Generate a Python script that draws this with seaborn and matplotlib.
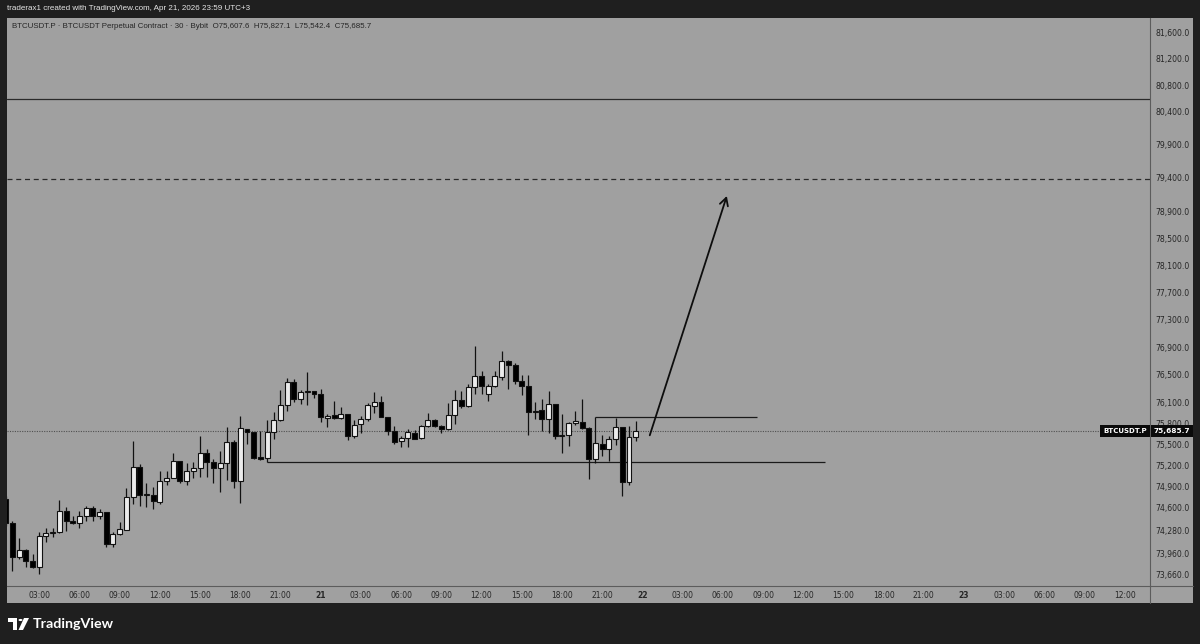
import numpy as np
import pandas as pd
import seaborn as sns
import matplotlib
matplotlib.use("Agg")
import matplotlib.pyplot as plt
import matplotlib.transforms as mtransforms
from matplotlib.lines import Line2D
from matplotlib.patches import Rectangle, Polygon, Circle
from matplotlib.ticker import FixedLocator, NullLocator, NullFormatter

# BTCUSDT.P 30m bars, Apr 20 00:30 -> Apr 21 23:30 (bar 0 = Apr 20 00:00)
bar_index = list(range(1, 96))
opens = [74720, 74380, 73905, 74005, 73848, 73767, 74200, 74242, 74257, 74552,
         74409, 74380, 74481, 74591, 74481, 74538, 74099, 74228, 74295, 74748,
         75171, 74777, 74777, 74677, 74985, 75028, 75257, 74985, 75114, 75157,
         75371, 75243, 75157, 75228, 75529, 74985, 75715, 75672, 75314, 75300,
         75672, 75843, 76058, 76390, 76144, 76244, 76258, 76215, 75872, 75915,
         75872, 75929, 75614, 75786, 75858, 76043, 76101, 75886, 75686, 75543,
         75586, 75657, 75586, 75757, 75843, 75757, 75715, 75915, 76129, 76043,
         76318, 76476, 76215, 76332, 76462, 76694, 76636, 76405, 76332, 75958,
         75986, 75858, 76072, 75614, 75629, 75800, 75815, 75729, 75286, 75500,
         75429, 75572, 75743, 74971, 75607.6]
highs = [74763, 74409, 74171, 74028, 73948, 74257, 74323, 74323, 74705, 74605,
         74481, 74552, 74620, 74620, 74581, 74545, 74257, 74395, 74875, 75543,
         75214, 74957, 74889, 75128, 75114, 75371, 75262, 75228, 75243, 75614,
         75429, 75286, 75400, 75743, 75557, 75900, 75722, 75680, 75686, 75843,
         75958, 76274, 76447, 76433, 76274, 76535, 76265, 76290, 75929, 76115,
         76029, 75935, 75843, 75900, 76086, 76244, 76186, 75893, 75757, 75614,
         75715, 75700, 75772, 75943, 75858, 75772, 76086, 76274, 76258, 76361,
         76911, 76549, 76361, 76549, 76839, 76708, 76664, 76491, 76491, 76101,
         76144, 76260, 76080, 75929, 75815, 75972, 76144, 75743, 75886, 75629,
         75614, 75872, 75750, 75757, 75827.1]
lows = [74338, 73710, 73877, 73767, 73753, 73667, 74114, 74185, 74242, 74271,
        74366, 74323, 74409, 74409, 74438, 74057, 74057, 74220, 74290, 74648,
        74620, 74605, 74577, 74648, 74928, 75020, 74957, 74928, 75028, 75042,
        75042, 74957, 74819, 74999, 74875, 74662, 75500, 75286, 75271, 75243,
        75572, 75835, 75972, 76101, 76072, 76058, 76158, 75815, 75743, 75858,
        75858, 75557, 75586, 75657, 75829, 75943, 75886, 75629, 75500, 75457,
        75457, 75572, 75572, 75750, 75743, 75657, 75700, 75786, 76015, 76029,
        76215, 76215, 76115, 76318, 76419, 76290, 76361, 76203, 75629, 75858,
        75686, 75657, 75572, 75371, 75471, 75772, 75715, 75014, 75228, 75329,
        75257, 75486, 74762, 74928, 75542.4]
closes = [74380, 73905, 74005, 73848, 73767, 74200, 74242, 74257, 74552, 74409,
          74380, 74481, 74591, 74481, 74538, 74099, 74228, 74309, 74748, 75171,
          74777, 74791, 74690, 74985, 75028, 75257, 74985, 75114, 75157, 75371,
          75243, 75157, 75228, 75529, 74985, 75729, 75672, 75300, 75286, 75672,
          75843, 76058, 76390, 76144, 76244, 76258, 76215, 75886, 75900, 75872,
          75929, 75614, 75772, 75858, 76058, 76101, 75886, 75686, 75529, 75586,
          75672, 75572, 75757, 75843, 75757, 75715, 75915, 76129, 76043, 76318,
          76476, 76332, 76332, 76476, 76694, 76636, 76405, 76332, 75958, 75972,
          75858, 76072, 75614, 75629, 75800, 75829, 75729, 75286, 75514, 75429,
          75572, 75743, 74971, 75600, 75685.7]

price_ticks = [73660, 73960, 74280, 74600, 74900, 75200, 75500, 75800, 76100,
               76500, 76900, 77300, 77700, 78100, 78500, 78900, 79400, 79900,
               80400, 80800, 81200, 81600]
time_labels = ["03:00", "06:00", "09:00", "12:00", "15:00", "18:00", "21:00", "21",
               "03:00", "06:00", "09:00", "12:00", "15:00", "18:00", "21:00", "22",
               "03:00", "06:00", "09:00", "12:00", "15:00", "18:00", "21:00", "23",
               "03:00", "06:00", "09:00", "12:00"]

# drawings
top_level = 80585
target_level = 79376
range_low = 75243      # from bar 40 low
range_high = 75886     # from bar 89 high
arrow_from = (97.1, 75629)
arrow_to = (108.6, 79126)

df = pd.DataFrame({"bar": bar_index, "open": opens, "high": highs,
                   "low": lows, "close": closes})
last_close = closes[-1]

DARK = "#1f1f1f"
GRAY = "#a0a0a0"
LINE = "#5c5c5c"
TXT = "#262626"

sns.set_style("white")
plt.rcParams["font.family"] = ["DejaVu Sans"]

W, H = 1200, 644
fig = plt.figure(figsize=(12, 6.44), dpi=100, facecolor=DARK)

def fx(px):
    return px / W

def fy(py):
    return 1 - py / H

# panel background incl. price & time axis
fig.patches.append(Rectangle((fx(7), fy(603)), fx(1193 - 7), (603 - 18) / H,
                             transform=fig.transFigure, facecolor=GRAY,
                             edgecolor="none", zorder=-5))

ax = fig.add_axes([fx(7), fy(586), fx(1149.5 - 7), (586 - 18) / H])
ax.set_facecolor(GRAY)
ax.set_yscale("log")
ax.set_xlim(1.19, 171.67)
ax.set_ylim(73507, 81831)

# candles
up = df["close"] >= df["open"]
ax.vlines(df["bar"], df["low"], df["high"], color="#111111", lw=0.9, zorder=2)
ax.bar(df["bar"], (df["close"] - df["open"]).abs(),
       bottom=df[["open", "close"]].min(axis=1), width=0.74,
       color=np.where(up, "#ebebeb", "#000000"), edgecolor="#111111",
       linewidth=0.8, zorder=3)

# levels
ax.axhline(top_level, color="#2a2a2a", lw=0.9, zorder=1)
ax.axhline(target_level, color="#2a2a2a", lw=0.9, ls=(0, (4, 3)), zorder=1)
ax.axhline(last_close, color="#505050", lw=0.8, ls=(0, (1, 1.2)), zorder=1)
ax.hlines(range_low, 40, 123.2, color="#1a1a1a", lw=0.9, zorder=1)
ax.hlines(range_high, 89, 113.1, color="#1a1a1a", lw=0.9, zorder=1)
ax.annotate("", xy=arrow_to, xytext=arrow_from,
            arrowprops=dict(arrowstyle="->,head_length=0.55,head_width=0.3",
                            color="#0d0d0d", lw=1.3, shrinkA=0, shrinkB=0))

# axes styling
for s in ["top", "left"]:
    ax.spines[s].set_visible(False)
for s in ["right", "bottom"]:
    ax.spines[s].set_color(LINE)
    ax.spines[s].set_linewidth(0.8)

ax.yaxis.tick_right()
ax.yaxis.set_major_locator(FixedLocator(price_ticks))
ax.yaxis.set_minor_locator(NullLocator())
ax.yaxis.set_minor_formatter(NullFormatter())
ax.set_yticklabels([f"{v:,.1f}" for v in price_ticks])
ax.tick_params(axis="y", length=0, pad=4, labelsize=5.6, labelcolor=TXT)

ax.set_xticks([6 * (k + 1) for k in range(len(time_labels))])
ax.set_xticklabels(time_labels)
ax.tick_params(axis="x", length=0, pad=3.3, labelsize=5.5, labelcolor=TXT)
for t in ax.get_xticklabels():
    if ":" not in t.get_text():
        t.set_fontweight("bold")
ax.grid(False)

# extend separators through the axis corner
fig.lines.append(Line2D([fx(1149.5)] * 2, [fy(603), fy(586)], transform=fig.transFigure,
                        color=LINE, lw=0.8))
fig.lines.append(Line2D([fx(1149.5), fx(1193)], [fy(586)] * 2, transform=fig.transFigure,
                        color=LINE, lw=0.8))

# last price tags
tr = mtransforms.blended_transform_factory(ax.transAxes, ax.transData)
ax.text(0.998, last_close, "BTCUSDT.P", transform=tr, ha="right", va="center",
        fontsize=5.0, fontweight="bold", color="white", zorder=6,
        bbox=dict(boxstyle="square,pad=0.45", facecolor="#0a0a0a", edgecolor="none"))
ax.text(1.0035, last_close, f"{last_close:,.1f}", transform=tr, ha="left", va="center",
        fontsize=5.3, fontweight="bold", color="white", zorder=6, clip_on=False,
        bbox=dict(boxstyle="square,pad=0.4", facecolor="#0a0a0a", edgecolor="none"))

# header texts
fig.text(fx(7), fy(9), "traderax1 created with TradingView.com, Apr 21, 2026 23:59 UTC+3",
         fontsize=5.8, color="#e6e6e6", va="center", ha="left",
         family=["Liberation Sans", "DejaVu Sans"])
fig.text(fx(12), fy(27),
         "BTCUSDT.P · BTCUSDT Perpetual Contract · 30 · Bybit  O75,607.6  H75,827.1  "
         "L75,542.4  C75,685.7", fontsize=5.7, color=TXT, va="center", ha="left",
         family=["Liberation Sans", "DejaVu Sans"])

# TradingView logo
def poly(pts):
    fig.patches.append(Polygon([(fx(x), fy(y)) for x, y in pts], closed=True,
                               transform=fig.transFigure, facecolor="white",
                               edgecolor="none"))

poly([(8, 618), (17, 618), (17, 630), (13, 630), (13, 622), (8, 622)])
fig.patches.append(Circle((fx(20.5), fy(620)), 2.0 / W, transform=fig.transFigure,
                          facecolor="white", edgecolor="none"))
poly([(24, 618), (29, 618), (23, 630), (18.5, 630)])
fig.text(fx(33), fy(624.5), "TradingView", fontsize=10.3, fontweight="bold",
         color="white", va="center", ha="left", family=["Lato", "DejaVu Sans"])

fig.savefig("out.png", dpi=100, facecolor=DARK)
